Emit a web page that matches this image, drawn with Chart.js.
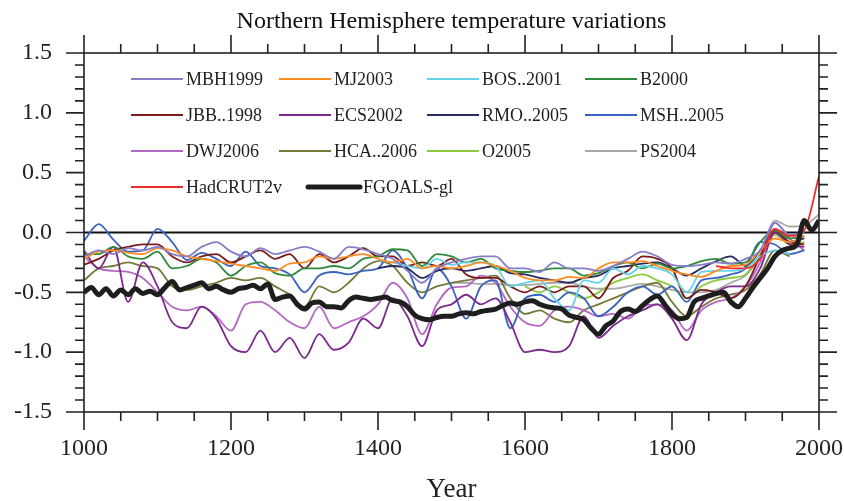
<!DOCTYPE html>
<html>
<head>
<meta charset="utf-8">
<script src="https://cdn.jsdelivr.net/npm/chart.js@4.4.1/dist/chart.umd.min.js"></script>
<style>
  html, body { margin: 0; background: #fff; }
  canvas { display: block; }
</style>
</head>
<body>
<canvas id="chart" width="844" height="501"></canvas>
<script>
const SERIF = '"Liberation Serif", "Times New Roman", serif';

// proxy reconstructions, sampled every 20 years
const years20 = [1000, 1020, 1040, 1060, 1080, 1100, 1120, 1140, 1160, 1180,
  1200, 1220, 1240, 1260, 1280, 1300, 1320, 1340, 1360, 1380,
  1400, 1420, 1440, 1460, 1480, 1500, 1520, 1540, 1560, 1580,
  1600, 1620, 1640, 1660, 1680, 1700, 1720, 1740, 1760, 1780,
  1800, 1820, 1840, 1860, 1880, 1900, 1920, 1940, 1960, 1980, 2000];

// model run, sampled every 10 years
const years10 = [1000, 1010, 1020, 1030, 1040, 1050, 1060, 1070, 1080, 1090,
  1100, 1110, 1120, 1130, 1140, 1150, 1160, 1170, 1180, 1190,
  1200, 1210, 1220, 1230, 1240, 1250, 1260, 1270, 1280, 1290,
  1300, 1310, 1320, 1330, 1340, 1350, 1360, 1370, 1380, 1390,
  1400, 1410, 1420, 1430, 1440, 1450, 1460, 1470, 1480, 1490,
  1500, 1510, 1520, 1530, 1540, 1550, 1560, 1570, 1580, 1590,
  1600, 1610, 1620, 1630, 1640, 1650, 1660, 1670, 1680, 1690,
  1700, 1710, 1720, 1730, 1740, 1750, 1760, 1770, 1780, 1790,
  1800, 1810, 1820, 1830, 1840, 1850, 1860, 1870, 1880, 1890,
  1900, 1910, 1920, 1930, 1940, 1950, 1960, 1970, 1980, 1990, 2000];

const mbh1999 = [-0.20, -0.15, -0.18, -0.13, -0.15, -0.12, -0.18, -0.20, -0.12, -0.08,
  -0.16, -0.20, -0.13, -0.18, -0.15, -0.12, -0.16, -0.22, -0.12, -0.14,
  -0.18, -0.22, -0.32, -0.42, -0.30, -0.25, -0.22, -0.20, -0.20, -0.30,
  -0.30, -0.33, -0.25, -0.30, -0.30, -0.32, -0.28, -0.22, -0.16, -0.20,
  -0.27, -0.28, -0.27, -0.25, -0.26, -0.22, -0.15, 0.08, -0.02, 0.00, null];

const mj2003 = [-0.22, -0.16, -0.15, -0.17, -0.18, -0.13, -0.15, -0.20, -0.22, -0.24,
  -0.26, -0.28, -0.30, -0.32, -0.26, -0.25, -0.20, -0.22, -0.20, -0.18,
  -0.22, -0.25, -0.22, -0.30, -0.28, -0.30, -0.28, -0.25, -0.28, -0.32,
  -0.38, -0.40, -0.40, -0.37, -0.38, -0.30, -0.25, -0.25, -0.24, -0.28,
  -0.32, -0.35, -0.37, -0.32, -0.28, -0.27, -0.15, -0.05, -0.08, -0.03, null];

const bos2001 = [null, null, null, null, null, null, null, null, null, null,
  null, null, null, null, null, null, null, null, null, null,
  -0.23, -0.25, -0.28, -0.30, -0.22, -0.27, -0.25, -0.25, -0.28, -0.45,
  -0.42, -0.40, -0.55, -0.65, -0.40, -0.42, -0.30, -0.35, -0.28, -0.30,
  -0.35, -0.50, -0.33, -0.32, -0.32, -0.30, -0.20, -0.15, -0.18, null, null];

const b2000 = [-0.18, -0.18, -0.12, -0.20, -0.22, -0.16, -0.30, -0.28, -0.22, -0.25,
  -0.36, -0.28, -0.25, -0.34, -0.36, -0.30, -0.30, -0.28, -0.30, -0.22,
  -0.20, -0.14, -0.15, -0.28, -0.18, -0.20, -0.25, -0.22, -0.30, -0.32,
  -0.33, -0.32, -0.30, -0.30, -0.36, -0.34, -0.28, -0.25, -0.30, -0.26,
  -0.30, -0.28, -0.24, -0.22, -0.26, -0.25, -0.08, 0.02, -0.05, -0.03, null];

const jbb1998 = [-0.27, -0.22, -0.15, -0.12, -0.10, -0.10, -0.20, -0.25, -0.20, -0.18,
  -0.25, -0.20, -0.15, -0.22, -0.18, -0.30, -0.18, -0.25, -0.20, -0.13,
  -0.20, -0.20, -0.28, -0.25, -0.28, -0.22, -0.35, -0.38, -0.38, -0.45,
  -0.50, -0.45, -0.50, -0.45, -0.45, -0.55, -0.38, -0.32, -0.20, -0.22,
  -0.30, -0.55, -0.48, -0.50, -0.55, -0.45, -0.20, 0.02, -0.08, -0.10, null];

const ecs2002 = [-0.15, -0.30, -0.12, -0.58, -0.25, -0.45, -0.75, -0.80, -0.62, -0.72,
  -0.95, -1.00, -0.82, -1.00, -0.88, -1.05, -0.85, -0.98, -0.92, -0.72,
  -0.80, -0.55, -0.70, -0.95, -0.65, -0.60, -0.52, -0.60, -0.55, -0.75,
  -1.00, -0.98, -1.00, -0.95, -0.70, -0.88, -0.78, -0.70, -0.65, -0.60,
  -0.72, -0.90, -0.60, -0.50, -0.45, -0.45, -0.30, 0.00, -0.10, -0.12, null];

const rmo2005 = [null, null, null, null, null, null, null, null, null, null,
  null, null, null, null, null, null, null, null, null, null,
  -0.30, -0.28, -0.30, -0.38, -0.32, -0.30, -0.32, -0.30, -0.28, -0.34,
  -0.35, -0.38, -0.40, -0.42, -0.38, -0.36, -0.30, -0.28, -0.26, -0.25,
  -0.30, -0.36, -0.30, -0.24, -0.20, -0.28, -0.15, 0.00, -0.08, -0.05, null];

const msh2005 = [-0.07, 0.07, -0.06, -0.16, -0.15, 0.03, -0.08, -0.23, -0.17, -0.22,
  -0.28, -0.16, -0.28, -0.30, -0.35, -0.50, -0.36, -0.33, -0.35, -0.32,
  -0.30, -0.15, -0.30, -0.55, -0.30, -0.45, -0.72, -0.45, -0.40, -0.80,
  -0.55, -0.52, -0.58, -0.50, -0.55, -0.70, -0.62, -0.50, -0.45, -0.52,
  -0.45, -0.58, -0.40, -0.38, -0.35, -0.30, -0.08, -0.10, -0.18, -0.15, null];

const dwj2006 = [-0.20, -0.30, -0.32, -0.33, -0.38, -0.50, -0.62, -0.65, -0.62, -0.70,
  -0.82, -0.60, -0.58, -0.65, -0.75, -0.80, -0.62, -0.80, -0.75, -0.70,
  -0.60, -0.42, -0.55, -0.85, -0.60, -0.46, -0.45, -0.36, -0.42, -0.62,
  -0.75, -0.78, -0.65, -0.62, -0.65, -0.70, -0.68, -0.72, -0.62, -0.60,
  -0.65, -0.82, -0.65, -0.58, -0.55, -0.45, -0.25, 0.08, -0.05, -0.15, null];

const hca2006 = [-0.40, -0.30, -0.28, -0.25, -0.28, -0.30, -0.45, -0.48, -0.45, -0.42,
  -0.38, -0.40, -0.38, -0.45, -0.52, -0.62, -0.45, -0.50, -0.42, -0.30,
  -0.24, -0.28, -0.42, -0.50, -0.45, -0.42, -0.40, -0.38, -0.36, -0.55,
  -0.68, -0.65, -0.72, -0.75, -0.65, -0.60, -0.55, -0.50, -0.45, -0.42,
  -0.58, -0.70, -0.62, -0.55, -0.52, -0.48, -0.35, -0.15, -0.20, null, null];

const o2005 = [null, null, null, null, null, null, null, null, null, null,
  null, null, null, null, null, null, null, null, null, null,
  null, null, null, null, null, null, null, null, null, null,
  -0.45, -0.50, -0.45, -0.50, -0.55, -0.50, -0.42, -0.38, -0.35, -0.40,
  -0.45, -0.55, -0.45, -0.40, -0.38, -0.35, -0.18, -0.02, -0.10, -0.08, null];

const ps2004 = [null, null, null, null, null, null, null, null, null, null,
  null, null, null, null, null, null, null, null, null, null,
  null, null, null, null, null, -0.42, -0.42, -0.43, -0.43, -0.44,
  -0.44, -0.43, -0.42, -0.42, -0.45, -0.47, -0.47, -0.45, -0.43, -0.45,
  -0.48, -0.50, -0.50, -0.48, -0.42, -0.36, -0.20, 0.10, 0.05, 0.06, 0.15];

const hadcrut2v = [null, null, null, null, null, null, null, null, null, null,
  null, null, null, null, null, null, null, null, null, null,
  null, null, null, null, null, null, null, null, null, null,
  null, null, null, null, null, null, null, null, null, null,
  null, null, null, -0.28, -0.30, -0.30, -0.22, 0.03, -0.03, 0.02, 0.47];

const fgoals = [-0.50, -0.46, -0.52, -0.47, -0.53, -0.48, -0.52, -0.47, -0.51, -0.49,
  -0.52, -0.46, -0.41, -0.48, -0.46, -0.44, -0.42, -0.47, -0.45, -0.48,
  -0.50, -0.47, -0.46, -0.44, -0.47, -0.43, -0.56, -0.54, -0.53, -0.60,
  -0.64, -0.59, -0.58, -0.62, -0.62, -0.63, -0.57, -0.54, -0.55, -0.56,
  -0.55, -0.54, -0.57, -0.58, -0.62, -0.69, -0.72, -0.73, -0.71, -0.70,
  -0.70, -0.68, -0.67, -0.68, -0.66, -0.65, -0.64, -0.61, -0.59, -0.60,
  -0.58, -0.57, -0.60, -0.62, -0.63, -0.64, -0.69, -0.71, -0.73, -0.80,
  -0.85, -0.78, -0.74, -0.66, -0.64, -0.66, -0.61, -0.56, -0.53, -0.60,
  -0.68, -0.72, -0.71, -0.58, -0.55, -0.53, -0.51, -0.50, -0.58, -0.62,
  -0.55, -0.46, -0.38, -0.30, -0.20, -0.15, -0.13, -0.10, 0.10, 0.02, 0.10];

const seriesNames = ['MBH1999', 'MJ2003', 'BOS..2001', 'B2000',
  'JBB..1998', 'ECS2002', 'RMO..2005', 'MSH..2005',
  'DWJ2006', 'HCA..2006', 'O2005', 'PS2004',
  'HadCRUT2v', 'FGOALS-gl'];
const seriesValues = [mbh1999, mj2003, bos2001, b2000,
  jbb1998, ecs2002, rmo2005, msh2005,
  dwj2006, hca2006, o2005, ps2004,
  hadcrut2v, fgoals];
const seriesColors = ['#8a7dc8', '#ff8c22', '#66d2e8', '#2f8a3a',
  '#7a1c1c', '#7b2a8c', '#262a5e', '#3a62c0',
  '#b468c4', '#767a38', '#8ccc3c', '#a8a8a8',
  '#ee2a2a', '#1e1e1e'];

const datasets = seriesNames.map((name, i) => {
  const isModel = name === 'FGOALS-gl';
  const xs = isModel ? years10 : years20;
  return {
    label: name,
    data: xs.map((yr, j) => ({ x: yr, y: seriesValues[i][j] })),
    borderColor: seriesColors[i],
    borderWidth: isModel ? 5 : 1.8,
    pointRadius: 0,
    fill: false,
    spanGaps: false,
    cubicInterpolationMode: 'monotone',
    order: isModel ? -2 : (name === 'HadCRUT2v' ? -1 : 0)
  };
});

// legend layout: line start x per column, row centre y; last row is staggered
const legendCols = [131, 279, 427, 585];
const legendLastRowCols = [131, 308];
const legendRows = [79, 115, 151, 187];

const decorations = {
  id: 'decorations',
  beforeDatasetsDraw(chart) {
    const { ctx, chartArea: a, scales: { y } } = chart;
    const y0 = y.getPixelForValue(0);
    ctx.save();
    ctx.strokeStyle = '#111';
    ctx.lineWidth = 2;
    ctx.beginPath();
    ctx.moveTo(a.left, y0);
    ctx.lineTo(a.right, y0);
    ctx.stroke();
    ctx.restore();
  },
  afterDraw(chart) {
    const { ctx, chartArea: a, scales: { x, y } } = chart;
    ctx.save();

    // frame and outward tick marks on all four sides
    ctx.strokeStyle = '#222';
    ctx.lineWidth = 1.6;
    ctx.strokeRect(a.left, a.top, a.right - a.left, a.bottom - a.top);
    ctx.beginPath();
    for (let i = -15; i <= 15; i++) {
      const py = y.getPixelForValue(i / 10);
      const len = i % 5 === 0 ? 18 : 9;
      ctx.moveTo(a.left - len, py); ctx.lineTo(a.left, py);
      ctx.moveTo(a.right, py); ctx.lineTo(a.right + len, py);
    }
    for (let yr = 1000; yr <= 2000; yr += 50) {
      const px = x.getPixelForValue(yr);
      const len = (yr - 1000) % 200 === 0 ? 18 : 9;
      ctx.moveTo(px, a.top - len); ctx.lineTo(px, a.top);
      ctx.moveTo(px, a.bottom); ctx.lineTo(px, a.bottom + len);
    }
    ctx.stroke();

    // title
    ctx.fillStyle = '#111';
    ctx.font = '24px ' + SERIF;
    ctx.textAlign = 'center';
    ctx.textBaseline = 'alphabetic';
    ctx.fillText('Northern Hemisphere temperature variations', (a.left + a.right) / 2, 28);

    // legend inside the plot
    ctx.font = '18px ' + SERIF;
    ctx.textAlign = 'left';
    ctx.textBaseline = 'middle';
    chart.data.datasets.forEach((ds, i) => {
      const row = Math.floor(i / 4);
      const cols = row === 3 ? legendLastRowCols : legendCols;
      const lx = cols[i % 4];
      const ly = legendRows[row];
      ctx.strokeStyle = ds.borderColor;
      ctx.lineWidth = ds.borderWidth;
      ctx.lineCap = ds.borderWidth > 3 ? 'round' : 'butt';
      ctx.beginPath();
      ctx.moveTo(lx, ly);
      ctx.lineTo(lx + 52, ly);
      ctx.stroke();
      ctx.fillStyle = '#222';
      ctx.fillText(ds.label, lx + 55, ly + 1);
    });
    ctx.restore();
  }
};

new Chart(document.getElementById('chart'), {
  type: 'line',
  data: { datasets },
  options: {
    responsive: false,
    animation: false,
    layout: { padding: { top: 53, right: 25, left: 0, bottom: 0 } },
    plugins: {
      legend: { display: false },
      tooltip: { enabled: false },
      title: { display: false }
    },
    scales: {
      x: {
        type: 'linear',
        min: 1000,
        max: 2000,
        grid: { display: false },
        border: { display: false },
        ticks: {
          stepSize: 200,
          color: '#222',
          font: { family: SERIF, size: 24 },
          padding: 14,
          maxRotation: 0,
          callback: v => String(v)
        },
        title: {
          display: true,
          text: 'Year',
          color: '#222',
          font: { family: SERIF, size: 27, lineHeight: 0.8 },
          padding: 0
        },
        afterFit: s => {
          s.height = 89;
          s.paddingLeft = 0;
          s.paddingRight = 0;
        }
      },
      y: {
        min: -1.5,
        max: 1.5,
        grid: { display: false },
        border: { display: false },
        ticks: {
          stepSize: 0.5,
          color: '#222',
          font: { family: SERIF, size: 24 },
          padding: 24,
          callback: v => v.toFixed(1)
        },
        afterFit: s => {
          s.width = 84;
          s.paddingTop = 0;
          s.paddingBottom = 0;
        }
      }
    }
  },
  plugins: [decorations]
});
</script>
</body>
</html>
